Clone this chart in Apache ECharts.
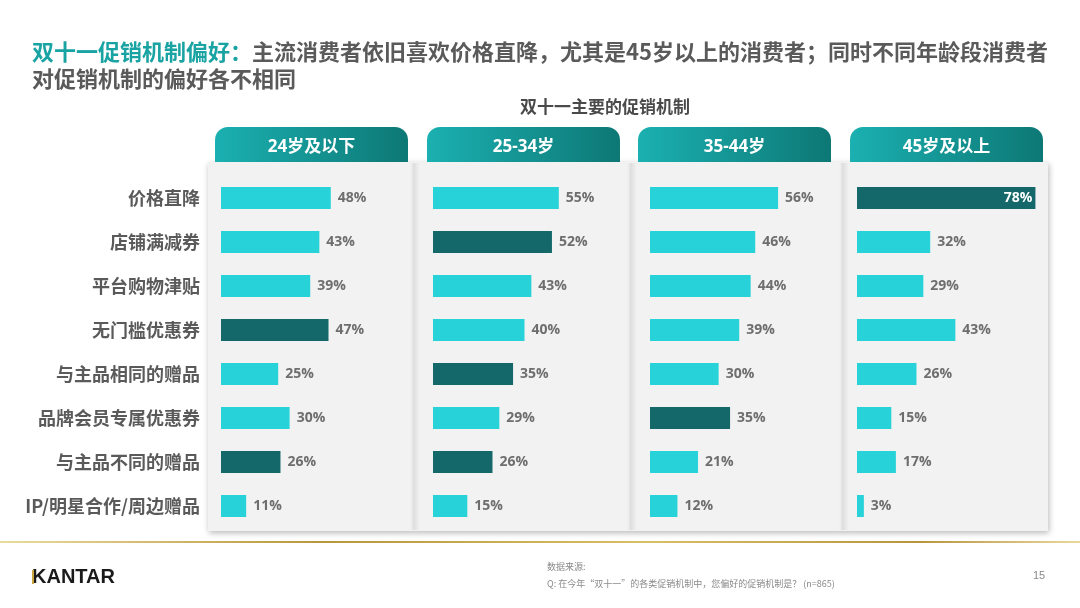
<!DOCTYPE html>
<html>
<head>
<meta charset="utf-8">
<script src="https://cdn.jsdelivr.net/npm/echarts@6/dist/echarts.min.js"></script>
<style>html,body{margin:0;padding:0;background:#fff}#c{width:1080px;height:608px}</style>
</head>
<body>
<div id="c"></div>
<script>
const categories = ['价格直降','店铺满减券','平台购物津贴','无门槛优惠券','与主品相同的赠品','品牌会员专属优惠券','与主品不同的赠品','IP/明星合作/周边赠品'];
const groups = ['24岁及以下','25-34岁','35-44岁','45岁及以上'];
const valuesUnder24 = [48,43,39,47,25,30,26,11];
const values25to34 = [55,52,43,40,35,29,26,15];
const values35to44 = [56,46,44,39,30,35,21,12];
const values45plus = [78,32,29,43,26,15,17,3];
const highlighted = [[3,6],[1,4,6],[5],[0]];
const titleLead = '双十一促销机制偏好：';
const titleRest1 = '主流消费者依旧喜欢价格直降，尤其是45岁以上的消费者；同时不同年龄段消费者';
const titleRest2 = '对促销机制的偏好各不相同';
const chartTitle = '双十一主要的促销机制';
const sourceLabel = '数据来源:';
const sourceNote = 'Q: 在今年“双十一”的各类促销机制中，您偏好的促销机制是？ (n=865)';
const pageNo = '15';

const allValues = [valuesUnder24, values25to34, values35to44, values45plus];
const LIGHT = '#28d2d9', DARK = '#15686a';
const AXMAX = 80;
const barStarts = [221, 433, 650, 857];
const headerX = [215, 427, 638, 850];
const gridW = 183, gridTop = 176, gridH = 352;
const CJK = '"Noto Sans CJK SC", sans-serif';
const NUM = '"Open Sans", "Noto Sans CJK SC", sans-serif';

const grids = [], xAxes = [], yAxes = [], series = [];
allValues.forEach((vals, i) => {
  grids.push({left: barStarts[i], top: gridTop, width: gridW, height: gridH});
  xAxes.push({type:'value', gridIndex:i, min:0, max:AXMAX, show:false});
  yAxes.push({type:'category', gridIndex:i, inverse:true, data:categories,
    axisLine:{show:false}, axisTick:{show:false}, splitLine:{show:false},
    axisLabel:{show:i===0, margin:21, fontFamily:CJK, fontWeight:'bold', fontSize:18, color:'#5a5a5a'}});
  series.push({type:'bar', xAxisIndex:i, yAxisIndex:i, barWidth:22, silent:true,
    data: vals.map((v, k) => {
      const dark = highlighted[i].includes(k);
      const inside = v / AXMAX > 0.85;
      return {value:v, itemStyle:{color: dark ? DARK : LIGHT},
        label: inside ? {position:'insideRight', color:'#fff', distance:3} : undefined};
    }),
    label:{show:true, position:'right', distance:7, formatter:'{c}%', fontFamily:NUM, fontWeight:'bold', fontSize:14, color:'#6e6e6e'}
  });
});

const graphic = [];
graphic.push({type:'rect', z:-10, shape:{x:208, y:162, width:840, height:369},
  style:{fill:'#f2f2f2', shadowBlur:6, shadowOffsetX:1, shadowOffsetY:2, shadowColor:'rgba(0,0,0,0.28)'}});
[413, 630, 842].forEach(x => {
  graphic.push({type:'rect', z:-9, shape:{x:x, y:163, width:7, height:367},
    style:{fill:new echarts.graphic.LinearGradient(0,0,1,0,[{offset:0,color:'rgba(0,0,0,0.09)'},{offset:1,color:'rgba(0,0,0,0)'}])}});
  graphic.push({type:'rect', z:-9, shape:{x:x-3, y:163, width:3, height:367},
    style:{fill:new echarts.graphic.LinearGradient(0,0,1,0,[{offset:0,color:'rgba(0,0,0,0)'},{offset:1,color:'rgba(0,0,0,0.05)'}])}});
});
groups.forEach((g, i) => {
  graphic.push({type:'rect', z:-5, shape:{x:headerX[i], y:127, width:193, height:35, r:[13,13,0,0]},
    style:{fill:new echarts.graphic.LinearGradient(0,0,1,0,[{offset:0,color:'#1bb0b1'},{offset:1,color:'#0d7875'}])}});
  graphic.push({type:'text', z:5, style:{text:g, x:headerX[i]+96.5, y:147, textAlign:'center', textVerticalAlign:'middle',
    font:'bold 17px ' + NUM, fill:'#ffffff'}});
});
graphic.push({type:'text', z:5, style:{x:32, y:52, textVerticalAlign:'middle',
  text:'{a|' + titleLead + '}{b|' + titleRest1 + '}',
  rich:{a:{fontSize:22, fontWeight:'bold', fontFamily:CJK, fill:'#1aa3a3', color:'#1aa3a3'},
        b:{fontSize:22, fontWeight:'bold', fontFamily:CJK, fill:'#5a5a5a', color:'#5a5a5a'}}}});
graphic.push({type:'text', z:5, style:{x:32, y:79, textVerticalAlign:'middle', text:titleRest2,
  font:'bold 22px ' + CJK, fill:'#5a5a5a'}});
graphic.push({type:'text', z:5, style:{x:605, y:107, textAlign:'center', textVerticalAlign:'middle', text:chartTitle,
  font:'bold 17px ' + CJK, fill:'#4a4a4a'}});
graphic.push({type:'rect', z:0, shape:{x:0, y:541, width:1080, height:2},
  style:{fill:new echarts.graphic.LinearGradient(0,0,1,0,[{offset:0,color:'#eadb9c'},{offset:0.3,color:'#b8963c'},{offset:0.6,color:'#d8bf6a'},{offset:0.85,color:'#b89440'},{offset:1,color:'#e9d89b'}])}});
graphic.push({type:'text', z:5, style:{x:32, y:577, textVerticalAlign:'middle', text:'KANTAR',
  font:'bold 20px "Liberation Sans", Arial, sans-serif', fill:'#1a1a1a'}});
graphic.push({type:'rect', z:6, shape:{x:32, y:570, width:2, height:14}, style:{fill:'#c9a640'}});
graphic.push({type:'text', z:5, style:{x:547, y:567, textVerticalAlign:'middle', text:sourceLabel,
  font:'9px ' + CJK, fill:'#8a8a8a'}});
graphic.push({type:'text', z:5, style:{x:547, y:584, textVerticalAlign:'middle', text:sourceNote,
  font:'9px ' + CJK, fill:'#8a8a8a'}});
graphic.push({type:'text', z:5, style:{x:1033, y:576, textVerticalAlign:'middle', text:pageNo,
  font:'11px "Liberation Sans", Arial, sans-serif', fill:'#8a8a8a'}});

const chart = echarts.init(document.getElementById('c'), null, {renderer:'canvas'});
chart.setOption({
  animation:false,
  backgroundColor:'#ffffff',
  grid:grids, xAxis:xAxes, yAxis:yAxes, series:series, graphic:graphic
});
</script>
</body>
</html>
